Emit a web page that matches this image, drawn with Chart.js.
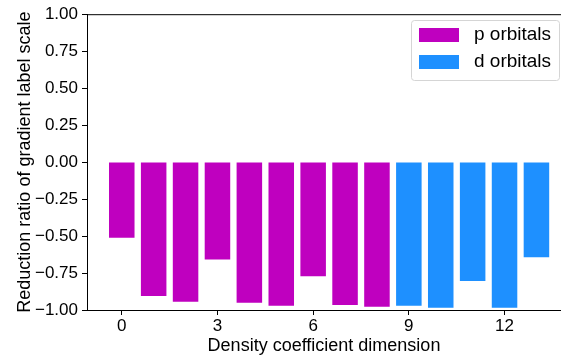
<!DOCTYPE html>
<html>
<head>
<meta charset="utf-8">
<script src="https://cdn.jsdelivr.net/npm/chart.js@4"></script>
<style>
  body { margin: 0; background: #fff; overflow: hidden; }
  #wrap { width: 561px; height: 362px; }
</style>
</head>
<body>
<div id="wrap"><canvas id="barCanvas" width="561" height="362"></canvas></div>
<script>
// values
const pIndex = [0, 1, 2, 3, 4, 5, 6, 7, 8];
const pValues = [-0.511, -0.905, -0.945, -0.658, -0.951, -0.971, -0.771, -0.967, -0.978];
const dIndex = [9, 10, 11, 12, 13];
const dValues = [-0.971, -0.984, -0.804, -0.984, -0.644];
const xTicks = [0, 3, 6, 9, 12];
const yTicks = [-1, -0.75, -0.5, -0.25, 0, 0.25, 0.5, 0.75, 1];

Chart.defaults.font.family = "'Liberation Sans', Arial, sans-serif";
Chart.defaults.font.size = 17;
Chart.defaults.color = '#000';

function fmt(v){
    let s = Math.abs(v).toFixed(2);
    return v < 0 ? '\u2212' + s : s;
}

// top spine + matplotlib style legend
const extras = {
    id: 'extras',
    afterDraw(chart){
        const ctx = chart.ctx;
        const a = chart.chartArea;
        ctx.save();
        ctx.strokeStyle = '#000';
        ctx.lineWidth = 1;
        ctx.beginPath();
        ctx.moveTo(a.left, a.top + 0.5);
        ctx.lineTo(a.right, a.top + 0.5);
        ctx.stroke();

        // legend box
        const bx = 411.5, by = 20.5, bw = 148, bh = 60, r = 3;
        ctx.fillStyle = 'rgba(255,255,255,0.8)';
        ctx.strokeStyle = '#d5d5d5';
        ctx.beginPath();
        ctx.roundRect(bx, by, bw, bh, r);
        ctx.fill();
        ctx.stroke();

        ctx.font = "19px 'Liberation Sans', Arial, sans-serif";
        ctx.textBaseline = 'middle';
        ctx.textAlign = 'left';
        chart.data.datasets.forEach((ds, i) => {
            const y = 28 + i * 27;
            ctx.fillStyle = ds.backgroundColor;
            ctx.fillRect(419, y, 40, 14);
            ctx.fillStyle = '#000';
            ctx.fillText(ds.label, 474, y + 7);
        });
        ctx.restore();
    }
};

const barCanvas = document.getElementById('barCanvas');
const barChart = new Chart(barCanvas, {
    type: 'bar',
    data: {
        datasets: [{
            label: 'p orbitals',
            data: pIndex.map((x, i) => ({x: x, y: pValues[i]})),
            backgroundColor: '#BF00BF',
            grouped: false
        }, {
            label: 'd orbitals',
            data: dIndex.map((x, i) => ({x: x, y: dValues[i]})),
            backgroundColor: '#1E90FF',
            grouped: false
        }]
    },
    options: {
        responsive: false,
        animation: false,
        events: [],
        categoryPercentage: 1.0,
        barPercentage: 0.8,
        layout: { padding: { top: 10, right: 0, left: 0, bottom: 0 } },
        plugins: {
            legend: { display: false },
            tooltip: { enabled: false }
        },
        scales: {
            x: {
                type: 'linear',
                min: -1.09,
                max: 13.77,
                offset: false,
                afterBuildTicks: s => { s.ticks = xTicks.map(v => ({value: v})); },
                afterFit: s => { s.height = 52; },
                grid: { display: true, offset: false, drawOnChartArea: false, drawTicks: true, tickLength: 5, color: '#000' },
                border: { display: true, color: '#000', width: 1 },
                ticks: { padding: 1, maxRotation: 0, autoSkip: false, callback: v => String(v) },
                title: {
                    display: true,
                    text: 'Density coefficient dimension',
                    font: { size: 18, lineHeight: 1 },
                    padding: { top: 0, bottom: 7 }
                }
            },
            y: {
                min: -1,
                max: 1,
                afterBuildTicks: s => { s.ticks = yTicks.map(v => ({value: v})); },
                afterFit: s => { s.width = 87; },
                grid: { display: true, drawOnChartArea: false, drawTicks: true, tickLength: 5, color: '#000' },
                border: { display: true, color: '#000', width: 1 },
                ticks: { padding: 4, autoSkip: false, callback: v => fmt(v) },
                title: {
                    display: true,
                    text: 'Reduction ratio of gradient label scale',
                    font: { size: 18, lineHeight: 1 },
                    padding: { top: 16, bottom: 0 }
                }
            }
        }
    },
    plugins: [extras]
});
</script>
</body>
</html>
